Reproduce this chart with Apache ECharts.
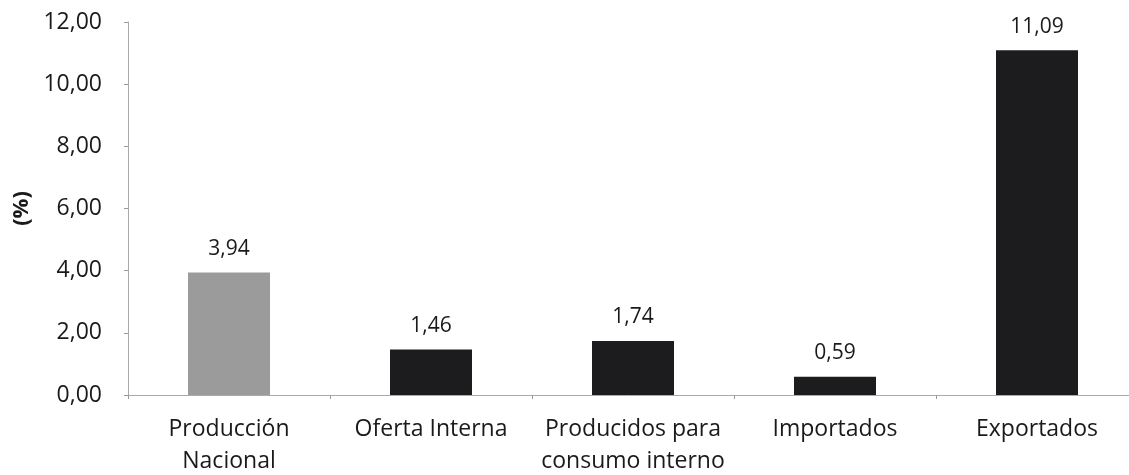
<!DOCTYPE html>
<html><head><meta charset="utf-8">
<script src="https://cdn.jsdelivr.net/npm/echarts@6/dist/echarts.min.js"></script>
<style>html,body{margin:0;padding:0;background:#fff}#c{width:1129px;height:475px}</style>
</head><body><div id="c"></div>
<script>
const categories = ['Producción\nNacional', 'Oferta Interna', 'Producidos para\nconsumo interno', 'Importados', 'Exportados'];
const values = [3.94, 1.46, 1.74, 0.59, 11.09];
const barColors = ['#9b9b9b', '#1c1c1e', '#1c1c1e', '#1c1c1e', '#1c1c1e'];
const fmt = v => v.toFixed(2).replace('.', ',');
const font = '"Open Sans", "Noto Sans", sans-serif';
const chart = echarts.init(document.getElementById('c'));
chart.setOption({
  animation: false,
  grid: { left: 128, top: 22, width: 1010, height: 373, outerBoundsMode: 'none', containLabel: false },
  xAxis: {
    type: 'category', data: categories,
    axisLine: { lineStyle: { color: '#aaa', width: 1 } },
    axisTick: { show: true, length: 4, lineStyle: { color: '#999' } },
    axisLabel: { color: '#1a1a1a', fontSize: 23, fontFamily: font, margin: 18, lineHeight: 32, interval: 0 }
  },
  yAxis: {
    type: 'value', min: 0, max: 12, interval: 2,
    name: '(%)', nameLocation: 'middle', nameGap: 92, nameRotate: 90,
    nameTextStyle: { color: '#1a1a1a', fontSize: 22, fontWeight: 'bold', fontFamily: font },
    axisLine: { show: true, lineStyle: { color: '#aaa' } },
    axisTick: { show: true, length: 4, lineStyle: { color: '#999' } },
    splitLine: { show: false },
    axisLabel: { color: '#1a1a1a', fontSize: 23, fontFamily: font, margin: 26, formatter: v => fmt(v) }
  },
  series: [{
    type: 'bar', barWidth: 82,
    data: values.map((v, i) => ({ value: v, itemStyle: { color: barColors[i] } })),
    label: { show: true, position: 'top', distance: 13, color: '#1a1a1a', fontSize: 21, fontFamily: font, formatter: p => fmt(p.value) }
  }]
});
</script></body></html>
